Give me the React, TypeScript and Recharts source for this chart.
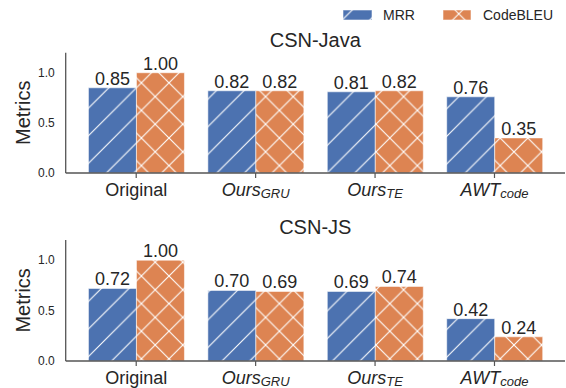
import { BarChart, Bar, XAxis, YAxis, LabelList } from 'recharts';

const CATEGORIES = ['Original', 'Ours_GRU', 'Ours_TE', 'AWT_code'];
const TICK_MAIN = ['Original', 'Ours', 'Ours', 'AWT'];
const TICK_SUB = ['', 'GRU', 'TE', 'code'];

const JAVA_MRR = [0.85, 0.82, 0.81, 0.76];
const JAVA_CODEBLEU = [1.0, 0.82, 0.82, 0.35];
const JS_MRR = [0.72, 0.7, 0.69, 0.42];
const JS_CODEBLEU = [1.0, 0.69, 0.74, 0.24];

const Y_TICKS = [0, 0.5, 1.0];
const SERIES = ['MRR', 'CodeBLEU'];

const BLUE = '#4c72b0';
const ORANGE = '#dd8452';
const INK = '#262626';
const FRAME = '#555555';
const FONT = '"Liberation Sans", Arial, sans-serif';
const HATCH = 27.6;

function buildRows(mrr: number[], bleu: number[]) {
  return CATEGORIES.map((name, i) => ({ name, mrr: mrr[i], bleu: bleu[i] }));
}

// hatch tiles are anchored to the page, so the lower chart shifts them by its own top
function HatchDefs() {
  const s = HATCH;
  const ne = `M0,${s} L${s},0 M-2,2 L2,-2 M${s - 2},${s + 2} L${s + 2},${s - 2}`;
  const se = `M0,0 L${s},${s} M-2,${s - 2} L2,${s + 2} M${s - 2},-2 L${s + 2},2`;
  const make = (id: string, color: string, d: string, y: number) => (
    <pattern key={id} id={id} patternUnits="userSpaceOnUse" x={3.4} y={y} width={s} height={s}>
      <rect width={s} height={s} fill={color} />
      <path d={d} stroke="#fff" strokeWidth={1.1} fill="none" />
    </pattern>
  );
  return (
    <defs>
      {make('mrr-top', BLUE, ne, 0)}
      {make('bleu-top', ORANGE, ne + ' ' + se, 0)}
      {make('mrr-bot', BLUE, ne, -200)}
      {make('bleu-bot', ORANGE, ne + ' ' + se, -200)}
    </defs>
  );
}

function CategoryTick(props: any) {
  const { x, y, payload } = props;
  const i = CATEGORIES.indexOf(payload.value);
  const sub = TICK_SUB[i];
  return (
    <text x={x} y={y + 15.5} textAnchor="middle" fill={INK} fontSize={18} fontFamily={FONT}>
      <tspan fontStyle={sub ? 'italic' : 'normal'}>{TICK_MAIN[i]}</tspan>
      {sub ? (
        <tspan fontStyle="italic" fontSize={13} dy={2.5}>
          {sub}
        </tspan>
      ) : null}
    </text>
  );
}

const frameLine = { stroke: FRAME, strokeWidth: 1.3 };

function Panel({ top, height, plotTop, extraBottom, mrr, bleu, suffix }: {
  top: number; height: number; plotTop: number; extraBottom: number; mrr: number[]; bleu: number[]; suffix: string;
}) {
  const rows = buildRows(mrr, bleu);
  const fmt = (v: any) => Number(v).toFixed(2);
  return (
    <div style={{ position: 'absolute', left: 0, top }}>
      <BarChart
        width={566}
        height={height}
        data={rows}
        margin={{ top: plotTop, right: 1, left: 0, bottom: extraBottom }}
        barCategoryGap="10%"
        barGap={0}
      >
        <XAxis
          dataKey="name"
          height={27}
          interval={0}
          padding={{ left: 10.8, right: 10.8 }}
          tickSize={5}
          tickMargin={2}
          tick={<CategoryTick />}
          tickLine={{ stroke: FRAME, strokeWidth: 1.2 }}
          axisLine={frameLine}
        />
        <XAxis xAxisId="top" orientation="top" dataKey="name" height={0} tick={false} tickLine={false} axisLine={frameLine} />
        <YAxis
          width={65.7}
          domain={[0, 1.2]}
          ticks={Y_TICKS}
          tickFormatter={(v: number) => v.toFixed(1)}
          tickLine={false}
          tickSize={6}
          tickMargin={5}
          axisLine={frameLine}
          tick={{ fill: INK, fontSize: 12, fontFamily: FONT }}
        />
        <YAxis yAxisId="right" orientation="right" width={0} domain={[0, 1.2]} tick={false} tickLine={false} axisLine={frameLine} />
        <Bar dataKey="mrr" name={SERIES[0]} fill={`url(#mrr-${suffix})`} stroke="rgba(255,255,255,0.55)" strokeWidth={1} isAnimationActive={false}>
          <LabelList dataKey="mrr" position="top" offset={3} formatter={fmt} fill={INK} fontSize={18} fontFamily={FONT} />
        </Bar>
        <Bar dataKey="bleu" name={SERIES[1]} fill={`url(#bleu-${suffix})`} stroke="rgba(255,255,255,0.55)" strokeWidth={1} isAnimationActive={false}>
          <LabelList dataKey="bleu" position="top" offset={3} formatter={fmt} fill={INK} fontSize={18} fontFamily={FONT} />
        </Bar>
      </BarChart>
    </div>
  );
}

export default function App() {
  return (
    <div style={{ position: 'absolute', left: 0, top: 0, width: 566, height: 388, background: '#fff', overflow: 'hidden' }}>
      <Panel top={0} height={215} plotTop={52.7} extraBottom={15} mrr={JAVA_MRR} bleu={JAVA_CODEBLEU} suffix="top" />
      <Panel top={200} height={198} plotTop={40} extraBottom={10} mrr={JS_MRR} bleu={JS_CODEBLEU} suffix="bot" />
      <svg width={566} height={388} style={{ position: 'absolute', left: 0, top: 0, pointerEvents: 'none' }} fontFamily={FONT}>
        <HatchDefs />
        {/* legend */}
        <rect x={343} y={10} width={29} height={10} fill="url(#mrr-top)" stroke="rgba(255,255,255,0.55)" />
        <text x={383} y={20} fontSize={14} fill={INK}>{SERIES[0]}</text>
        <rect x={443} y={10} width={28} height={10} fill="url(#bleu-top)" stroke="rgba(255,255,255,0.55)" />
        <text x={483} y={20} fontSize={14} fill={INK}>{SERIES[1]}</text>
        {/* titles */}
        <text x={315.3} y={46.5} textAnchor="middle" fontSize={20} fill={INK}>CSN-Java</text>
        <text x={315.3} y={234} textAnchor="middle" fontSize={20} fill={INK}>CSN-JS</text>
        {/* y labels */}
        <text transform="translate(30,112.8) rotate(-90)" textAnchor="middle" fontSize={20} fill={INK}>Metrics</text>
        <text transform="translate(30,300.4) rotate(-90)" textAnchor="middle" fontSize={20} fill={INK}>Metrics</text>
      </svg>
    </div>
  );
}
